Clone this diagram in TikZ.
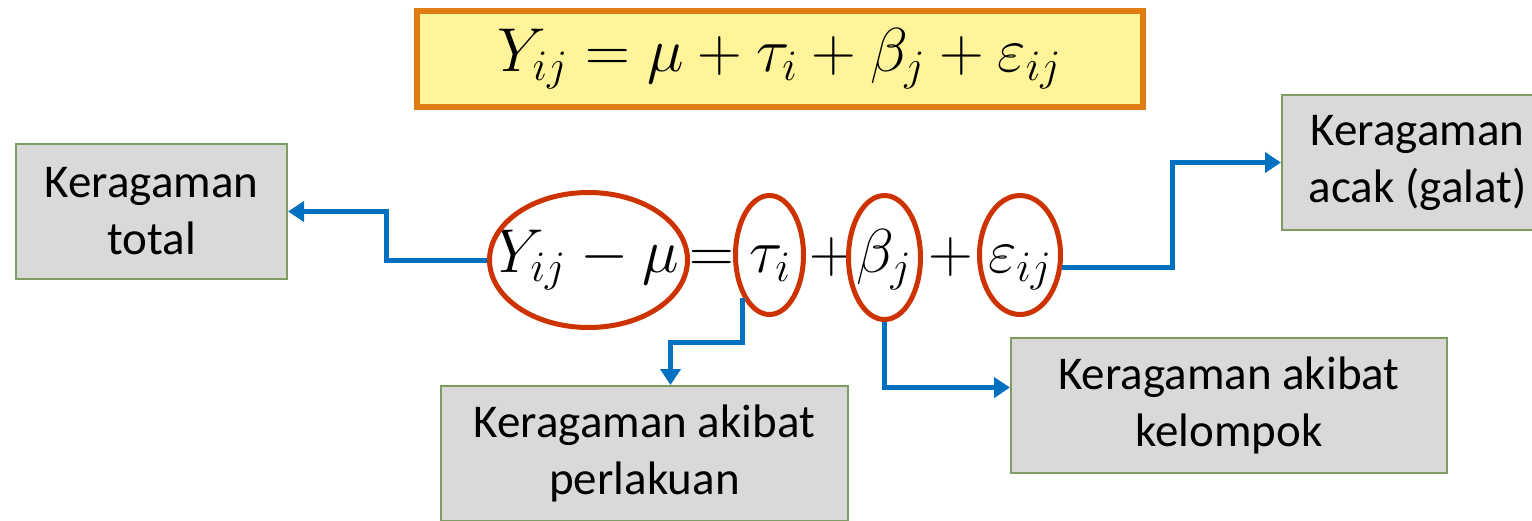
\RequirePackage{fix-cm}
\documentclass[tikz,border=0pt]{standalone}
\usepackage{fontspec}
\setmainfont{Carlito}
\usetikzlibrary{arrows.meta,calc,shapes.geometric}
\definecolor{ringred}{HTML}{CC3300}
\definecolor{connblue}{HTML}{0070C0}
\definecolor{boxgray}{HTML}{D9D9D9}
\definecolor{boxedge}{HTML}{7F9C63}
\definecolor{topfill}{HTML}{FFF49A}
\definecolor{topedge}{HTML}{E07B12}
\begin{document}
\begin{tikzpicture}[x=0.5pt,y=-0.5pt,
  graybox/.style={draw=boxedge, line width=1pt, fill=boxgray, align=center,
    inner sep=0pt, font=\fontsize{23.5}{28.5}\selectfont},
  ring/.style={ellipse, draw=ringred, line width=2.5pt, inner sep=0pt},
  eqtext/.style={inner sep=0pt, font=\fontsize{31}{36}\selectfont},
  conn/.style={draw=connblue, line width=2.5pt, -{Triangle[length=8pt,width=10pt]}},
  topbox/.style={draw=topedge, line width=3pt, fill=topfill, inner sep=0pt,
    font=\fontsize{31}{36}\selectfont}]
\clip (0,0) rectangle (1532,520);

% top formula
\node[topbox, minimum width=363pt, minimum height=48pt] (top) at (779.5,59)
  {$Y_{ij} = \mu + \tau_i + \beta_j + \varepsilon_{ij}$};

% text boxes
\node[graybox, minimum width=135.5pt, minimum height=67.5pt] (ltot) at (151.5,211.5)
  {Keragaman\\total};
\node[graybox, minimum width=135.5pt, minimum height=67.5pt] (acak) at (1417.5,162.5)
  {Keragaman\\acak (galat)};
\node[graybox, minimum width=203.5pt, minimum height=67.5pt] (perl) at (644.5,453.5)
  {Keragaman akibat\\perlakuan};
\node[graybox, minimum width=218pt, minimum height=67.5pt] (kel) at (1229,405.5)
  {Keragaman akibat\\kelompok};

% equation pieces
\node[eqtext, anchor=base] (t1) at (587,272) {$Y_{ij}-\mu$};
\node[eqtext, anchor=base] (t2) at (712,272) {$=$};
\node[eqtext, anchor=base] (t3) at (770,272) {$\tau_i$};
\node[eqtext, anchor=base] (t4) at (832,272) {$+$};
\node[eqtext, anchor=base] (t5) at (884,272) {$\beta_j$};
\node[eqtext, anchor=base] (t6) at (951,272) {$+$};
\node[eqtext, anchor=base] (t7) at (1020,272) {$\varepsilon_{ij}$};

% rings
\node[ring, minimum width=99pt, minimum height=67.5pt] (e1) at (588.5,260) {};
\node[ring, minimum width=34pt, minimum height=59.5pt] (tau) at (769.5,255) {};
\node[ring, minimum width=36pt, minimum height=62pt] (beta) at (884.5,257.5) {};
\node[ring, minimum width=40.5pt, minimum height=59.5pt] (eps) at (1020,255) {};

% connectors
\draw[conn] (e1.west) -- ++(-101,0) |- (ltot.east);
\draw[conn] (tau.238) -- ++(0,45) -| ([xshift=13pt]perl.north);
\draw[conn] (beta.south) |- ([yshift=9pt]kel.west);
\draw[conn] (eps.-17) -- ++(110,0) |- (acak.west);
\end{tikzpicture}
\end{document}
